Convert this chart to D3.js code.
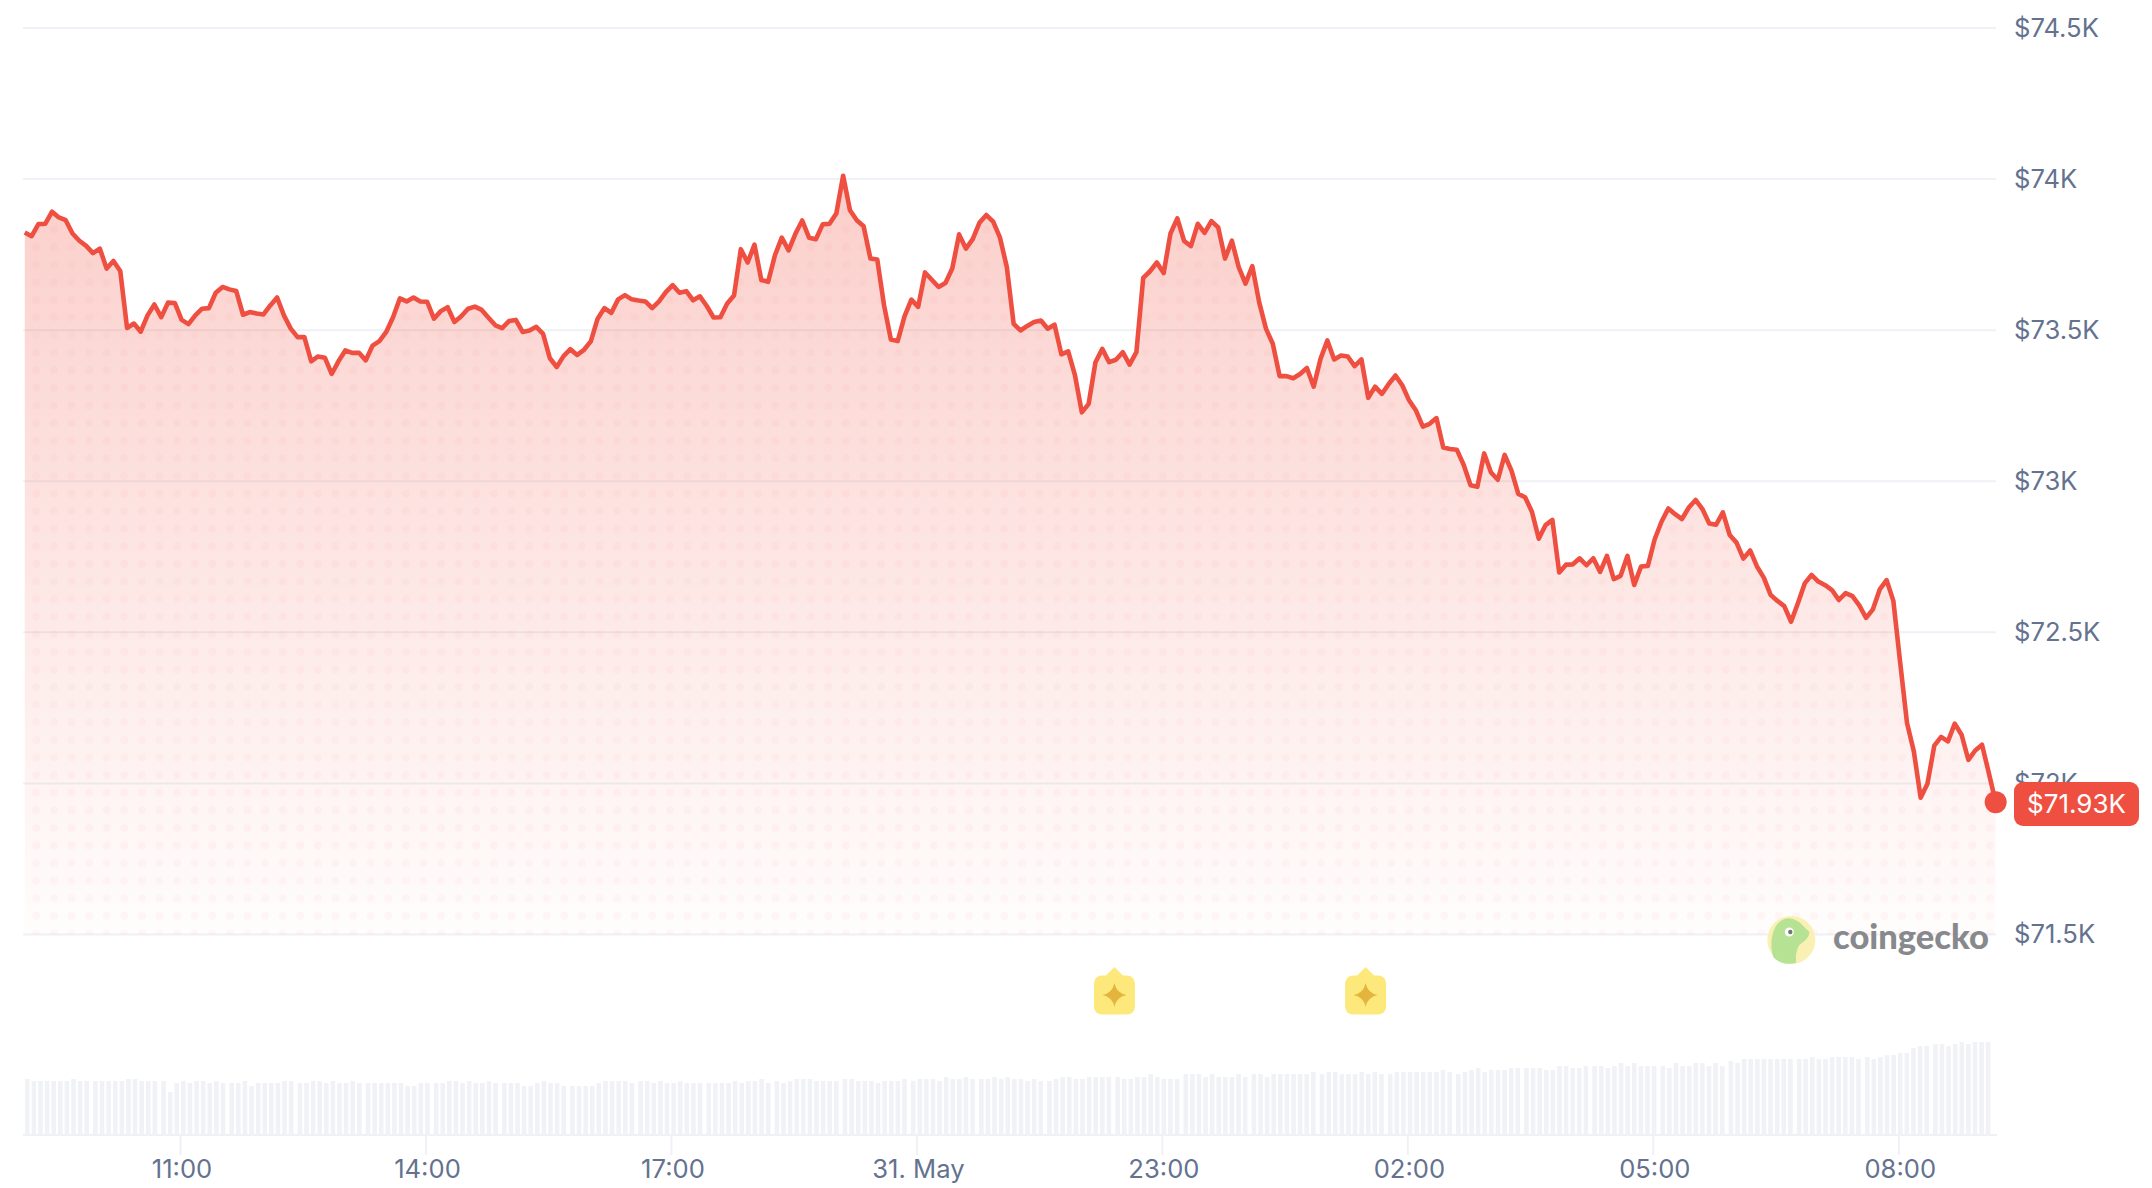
<!DOCTYPE html>
<html>
<head>
<meta charset="utf-8">
<script src="https://cdn.jsdelivr.net/npm/d3@7.9.0/dist/d3.min.js"></script>
<style>
  html, body { margin: 0; background: #fff; }
  svg { display: block; }
  text { font-family: Inter, sans-serif; }
</style>
</head>
<body>
<svg id="chart" width="2152" height="1188"></svg>
<script>
// 24h of 5 minute prices, USD
const prices = [
  73823,73811,73851,73852,73892,73873,73864,73820,73796,73779,
  73755,73770,73704,73729,73696,73507,73522,73495,73549,73585,
  73543,73591,73590,73534,73520,73549,73571,73573,73624,73643,
  73635,73630,73551,73560,73555,73552,73582,73608,73549,73505,
  73477,73477,73397,73413,73409,73355,73397,73433,73425,73425,
  73400,73449,73464,73494,73543,73605,73595,73608,73595,73594,
  73538,73563,73576,73527,73546,73571,73578,73567,73541,73516,
  73507,73530,73534,73494,73499,73511,73488,73407,73378,73414,
  73437,73418,73435,73463,73538,73573,73557,73602,73616,73602,
  73598,73595,73573,73595,73626,73649,73624,73629,73599,
  73612,73580,73542,73543,73588,73615,73768,73724,73783,73666,
  73660,73748,73806,73764,73819,73863,73806,73801,73850,73852,
  73886,74011,73897,73864,73844,73737,73734,73582,73469,73464,
  73546,73601,73577,73691,73667,73643,73656,73704,73817,73770,
  73801,73856,73881,73859,73806,73709,73521,73499,73514,73527,
  73532,73505,73518,73420,73430,73350,73228,73256,73394,73438,
  73394,73402,73427,73386,73427,73673,73695,73724,73689,73820,
  73870,73795,73778,73852,73822,73861,73840,73737,73796,73709,
  73654,73712,73593,73505,73455,73348,73348,73341,73355,73375,
  73313,73405,73466,73403,73416,73413,73381,73403,73276,73313,
  73289,73322,73350,73317,73267,73234,
  73181,73190,73209,73112,73107,73104,73054,72987,72982,73092,
  73029,73005,73087,73035,72958,72947,72899,72810,72855,72872,
  72698,72724,72725,72745,72722,72745,72700,72753,72676,72687,
  72753,72657,72718,72720,72808,72866,72910,72891,72875,72913,
  72938,72908,72860,72856,72897,72822,72797,72744,72771,72718,
  72681,72624,72604,72587,72535,72596,72662,72690,72668,72656,
  72640,72607,72630,72620,72589,72548,72576,72642,72673,72604,
  72399,72200,72106,71953,71999,72125,72154,72139,72198,72161,
  72078,72109,72128,72034,71938
];

// volume has no axis in the picture, so these are relative units
const volumes = [
  55,53,53,53,53,53,53,55,53,53, 53,53,53,53,53,55,55,53,53,53,
  53,42,51,53,51,53,53,51,53,51,51, 51,53,48,51,51,51,51,53,53,51,
  51,53,53,51,53,51,51,53,51,51, 51,51,51,51,51,48,48,51,51,51,
  51,53,53,51,53,51,51,53,51,51, 51,51,48,48,51,53,51,51,48,48,
  48,48,48,51,53,53,53,53,51,53,53, 51,53,51,51,53,51,51,51,51,
  51,51,51,53,51,53,53,55,51,53, 51,53,55,55,55,53,53,53,53,55,
  55,53,53,53,51,53,53,53,55,53, 55,55,55,53,57,55,55,57,55,55,55,
  57,55,57,55,55,53,55,53,53,55, 57,57,55,55,57,57,57,57,57,55,
  55,57,57,60,57,55,55,55,60,60, 60,57,60,57,57,57,60,57,60,60,
  57,60,60,60,60,60,60,62,60,62,62, 60,60,60,62,60,62,60,60,62,62,
  62,62,62,62,62,64,62,60,62,64, 66,62,64,64,64,66,66,66,66,66,
  64,64,68,68,66,66,68,68,68,66, 68,71,68,71,68,68,68,68,66,71,
  68,68,71,71,68,71,68,73,71,75, 75,75,75,75,75,75,75,75,75,77,
  75,75,77,77,77,77,75,77,75,77,79, 79,81,81,86,88,88,90,90,88,90,
  92,90,92,92,92
];

const yTicks = [71500, 72000, 72500, 73000, 73500, 74000, 74500];
const yLabels = ["$71.5K", "$72K", "$72.5K", "$73K", "$73.5K", "$74K", "$74.5K"];
const xTicks = [11, 14, 17, 20, 23, 26, 29, 32]; // hours since the first midnight
const xLabels = ["11:00", "14:00", "17:00", "31. May", "23:00", "02:00", "05:00", "08:00"];
const eventHours = [22.42, 25.49];
const currentLabel = "$71.93K";

const firstHour = 9.103;
const lastHour = 33.19;

const red = "#ef4f40";
const gridColor = "#eff1f6";
const labelColor = "#64728f";

const svg = d3.select("#chart");

const x = d3.scaleLinear().domain([11, 32]).range([180, 1898.3]);
const y = d3.scaleLinear().domain([71500, 74500]).range([934.5, 28]);
const pointHour = d3.scaleLinear().domain([0, prices.length - 1]).range([firstHour, lastHour]);

const volY = d3.scaleLinear().domain([0, 100]).range([1134, 1034]);
// bars come in runs of ten with a wider gap between runs
const barStart = d3.scaleLinear().domain([0, volumes.length - 1]).range([25, 1987.6]);
const barX = (i) => barStart(i - i % 10) + (i % 10) * 6.6;

const defs = svg.append("defs");

const fade = defs.append("linearGradient")
  .attr("id", "fade")
  .attr("gradientUnits", "userSpaceOnUse")
  .attr("x1", 0).attr("x2", 0).attr("y1", 165).attr("y2", 940);
fade.append("stop").attr("offset", 0).attr("stop-color", red).attr("stop-opacity", 0.28);
fade.append("stop").attr("offset", 1).attr("stop-color", red).attr("stop-opacity", 0.01);

const dots = defs.append("pattern")
  .attr("id", "dots")
  .attr("patternUnits", "userSpaceOnUse")
  .attr("width", 17.6).attr("height", 17.6);
dots.selectAll("circle").data([[1.07, 0.7], [18.67, 0.7], [1.07, 18.3], [18.67, 18.3]]).join("circle")
  .attr("cx", (d) => d[0]).attr("cy", (d) => d[1]).attr("r", 4)
  .attr("fill", red).attr("fill-opacity", 0.04);

// grid lines
svg.append("g").selectAll("line").data(yTicks).join("line")
  .attr("x1", 23).attr("x2", 1996)
  .attr("y1", (d) => y(d)).attr("y2", (d) => y(d))
  .attr("stroke", gridColor).attr("stroke-width", 2);

// area and line
const area = d3.area()
  .x((d, i) => x(pointHour(i)))
  .y0(y(71500))
  .y1((d) => y(d));
const line = d3.line()
  .x((d, i) => x(pointHour(i)))
  .y((d) => y(d));

svg.append("path").attr("d", area(prices)).attr("fill", "url(#fade)");
svg.append("path").attr("d", area(prices)).attr("fill", "url(#dots)");
svg.append("path").attr("d", line(prices))
  .attr("fill", "none").attr("stroke", red).attr("stroke-width", 4.6)
  .attr("stroke-linejoin", "round");

// volume bars
svg.append("g").selectAll("rect").data(volumes).join("rect")
  .attr("x", (d, i) => barX(i))
  .attr("y", (d) => volY(d))
  .attr("width", 4.6)
  .attr("height", (d) => volY(0) - volY(d))
  .attr("fill", "#f1f2f6");

svg.append("line")
  .attr("x1", 23).attr("x2", 1997).attr("y1", 1135).attr("y2", 1135)
  .attr("stroke", gridColor).attr("stroke-width", 2);

// x axis
const xAxis = svg.append("g")
  .attr("transform", "translate(0,1135)")
  .call(d3.axisBottom(x).tickValues(xTicks).tickSize(20).tickFormat((d, i) => xLabels[i]));
xAxis.select(".domain").remove();
xAxis.selectAll("line").attr("stroke", gridColor).attr("stroke-width", 2);
xAxis.selectAll("text")
  .attr("x", 1.5).attr("y", 43).attr("dy", 0)
  .attr("fill", labelColor)
  .style("font-size", "25.6px");

// y axis labels
const yAxis = svg.append("g")
  .attr("transform", "translate(2014,0)")
  .call(d3.axisRight(y).tickValues(yTicks).tickSize(0).tickPadding(0).tickFormat((d, i) => yLabels[i]));
yAxis.select(".domain").remove();
yAxis.selectAll("text")
  .attr("fill", labelColor)
  .style("font-size", "25.6px");

// current price
const lastPrice = prices[prices.length - 1];
svg.append("circle")
  .attr("cx", x(lastHour)).attr("cy", y(lastPrice)).attr("r", 11)
  .attr("fill", red);
svg.append("rect")
  .attr("x", 2014).attr("y", 782).attr("width", 125).attr("height", 44).attr("rx", 9)
  .attr("fill", red);
svg.append("text")
  .attr("x", 2076.5).attr("y", 813)
  .attr("text-anchor", "middle").attr("fill", "#fff")
  .style("font-size", "26px")
  .text(currentLabel);

// event markers under the chart
const star = d3.path();
star.moveTo(0, -12);
star.quadraticCurveTo(2, -2, 12, 0);
star.quadraticCurveTo(2, 2, 0, 12);
star.quadraticCurveTo(-2, 2, -12, 0);
star.quadraticCurveTo(-2, -2, 0, -12);
star.closePath();

const marker = svg.append("g").selectAll("g").data(eventHours).join("g")
  .attr("transform", (d) => `translate(${x(d)},995)`);
marker.append("path").attr("d", "M0,-28L9,-19L-9,-19Z").attr("fill", "#fde97b");
marker.append("rect")
  .attr("x", -20.5).attr("y", -19.5).attr("width", 41).attr("height", 39).attr("rx", 8)
  .attr("fill", "#fde97b");
marker.append("path").attr("d", star.toString()).attr("fill", "#e4b53d");

// coingecko watermark
const logo = svg.append("g").attr("transform", "translate(1791.3,940)");
logo.append("circle").attr("r", 24).attr("fill", "#fbf0b4");
logo.append("path")
  .attr("d", "M-18,17C-22,5 -20,-14 -9,-20C-2,-24 6,-20 11,-15L18,-8C18,-2 12,2 8,5C5,10 4,17 5,23C-4,25 -13,23 -18,17Z")
  .attr("fill", "#b6e294");
logo.append("circle").attr("cx", -2).attr("cy", -8).attr("r", 4.5).attr("fill", "#fff");
logo.append("circle").attr("cx", -1).attr("cy", -8).attr("r", 2.2).attr("fill", "#6d7a6a");

svg.append("text")
  .attr("x", 1833).attr("y", 949)
  .attr("fill", "#88898c")
  .style("font-family", "Lato, sans-serif")
  .style("font-weight", 900)
  .style("font-size", "34.5px")
  .text("coingecko");
</script>
</body>
</html>
